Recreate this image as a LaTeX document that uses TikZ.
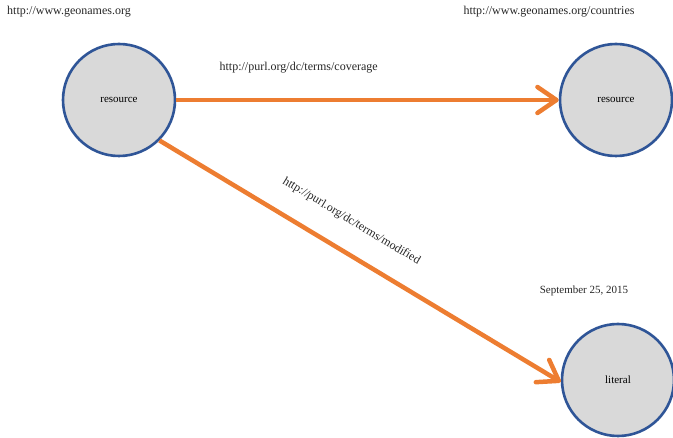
\documentclass[tikz,border=0pt]{standalone}
\usepackage{fontspec}
\setmainfont{Liberation Serif}
\usetikzlibrary{arrows.meta}
\definecolor{edgeorange}{HTML}{ED7D31}
\definecolor{nodefill}{HTML}{D9D9D9}
\definecolor{nodeline}{HTML}{2F5597}
\begin{document}
\begin{tikzpicture}[x=1pt,y=-1pt,
  rnode/.style={circle,draw=nodeline,fill=nodefill,line width=2.6pt,minimum size=112pt,inner sep=0pt,font=\fontsize{11}{13}\selectfont},
  lbl/.style={font=\fontsize{11}{13}\selectfont,inner sep=0pt,text=black!85},
  url/.style={lbl,font=\fontsize{12}{14}\selectfont},
  rel/.style={draw=edgeorange,line width=4.5pt,-{Straight Barb[length=19pt,width=26pt,round]}}]
\useasboundingbox (0,0) rectangle (673,438);
\node[rnode] (c1) at (119,100) {resource};
\node[rnode] (c2) at (616,100) {resource};
\node[rnode] (c3) at (618,380) {literal};
\node[url] (t1) at (69,12) {http://www.geonames.org};
\node[url] (t2) at (549,12) {http://www.geonames.org/countries};
\node[lbl] (t3) at (584,291) {September 25, 2015};
\draw[rel] (c1.east) -- node[url,pos=0.32,above=25pt] {http://purl.org/dc/terms/coverage} (c2.west);
\draw[rel] (c1.-45) -- node[url,pos=0.44,sloped,above=22pt] {http://purl.org/dc/terms/modified} (c3.182);
\end{tikzpicture}
\end{document}
